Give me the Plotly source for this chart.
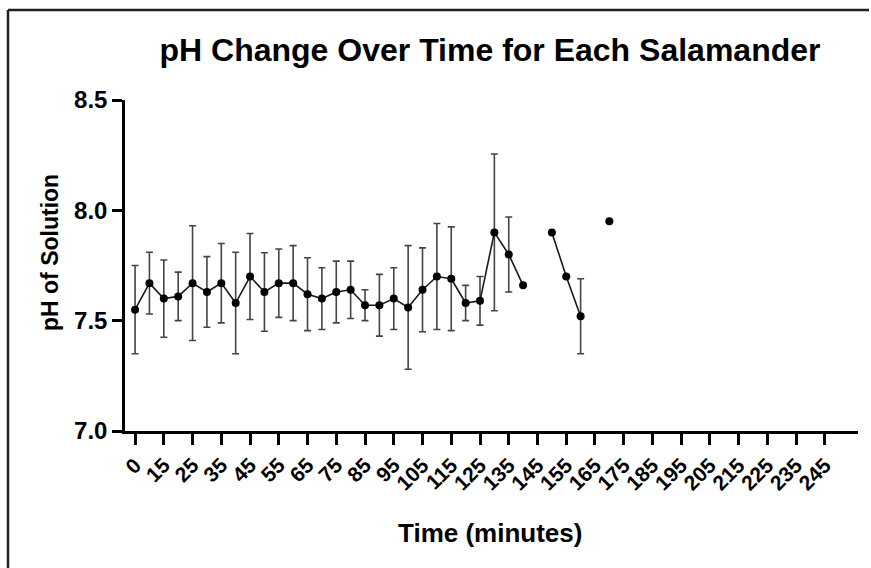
import plotly.graph_objects as go

# Data (time in minutes, mean pH, error half-width)
times = [0, 5, 10, 15, 20, 25, 30, 35, 40, 45, 50, 55, 60, 65, 70, 75, 80, 85,
         90, 95, 100, 105, 110, 115, 120, 125, 130, 135, 140, 145, 150, 155, 160, 165]
ph_mean = [7.55, 7.67, 7.60, 7.61, 7.67, 7.63, 7.67, 7.58, 7.70, 7.63, 7.67, 7.67,
           7.62, 7.60, 7.63, 7.64, 7.57, 7.57, 7.60, 7.56, 7.64, 7.70, 7.69, 7.58,
           7.59, 7.90, 7.80, 7.66, None, 7.90, 7.70, 7.52, None, 7.95]
ph_err = [0.20, 0.14, 0.175, 0.11, 0.26, 0.16, 0.18, 0.23, 0.195, 0.178, 0.155, 0.17,
          0.165, 0.14, 0.14, 0.13, 0.07, 0.14, 0.14, 0.28, 0.19, 0.24, 0.235, 0.08,
          0.11, 0.355, 0.17, None, None, None, None, 0.17, None, None]

tick_vals = list(range(0, 241, 10))
tick_text = ["0", "15", "25", "35", "45", "55", "65", "75", "85", "95", "105", "115",
             "125", "135", "145", "155", "165", "175", "185", "195", "205", "215",
             "225", "235", "245"]
y_ticks = [7.0, 7.5, 8.0, 8.5]

FONT = "Liberation Sans, Arial, sans-serif"

fig = go.Figure()
fig.add_trace(go.Scatter(
    x=times, y=ph_mean,
    mode="lines+markers",
    connectgaps=False,
    line=dict(color="#1a1a1a", width=1.6),
    marker=dict(color="#000000", size=8),
    error_y=dict(type="data", array=ph_err, visible=True,
                 color="#444444", thickness=1.6, width=3.5),
    showlegend=False,
))

L, R, T, B = 125, 13, 100, 137
W, H = 871, 568
pw, ph = W - L - R, H - T - B

def px_x(x):
    return (x - L) / pw

def px_y(y):
    return (H - B - y) / ph

fig.update_layout(
    width=W, height=H,
    margin=dict(l=L, r=R, t=T, b=B),
    paper_bgcolor="white", plot_bgcolor="white",
    font=dict(family=FONT, color="#000000"),
    title=dict(text="<b>pH Change Over Time for Each Salamander</b>",
               font=dict(size=32, family=FONT, color="#000000"),
               xref="paper", x=px_x(490), xanchor="center",
               yref="container", y=1 - 50 / H, yanchor="middle"),
    xaxis=dict(range=[-3.5, 251.5], tickmode="array", tickvals=tick_vals,
               ticktext=tick_text, tickangle=-45,
               tickfont=dict(size=21, family=FONT, color="#000000", weight="bold"),
               showgrid=False, zeroline=False, showline=True,
               linecolor="#000000", linewidth=2.5,
               ticks="outside", ticklen=11, tickwidth=2.5, tickcolor="#000000"),
    yaxis=dict(range=[7.0, 8.5], tickmode="array", tickvals=y_ticks,
               tickformat=".1f",
               tickfont=dict(size=24, family=FONT, color="#000000", weight="bold"),
               showgrid=False, zeroline=False, showline=True,
               linecolor="#000000", linewidth=2.5,
               ticks="outside", ticklen=10, tickwidth=2.5, tickcolor="#000000"),
    annotations=[
        dict(text="<b>pH of Solution</b>", xref="paper", yref="paper",
             x=px_x(50), y=px_y(253), xanchor="center", yanchor="middle",
             textangle=-90, showarrow=False,
             font=dict(size=23, family=FONT, color="#000000")),
        dict(text="<b>Time (minutes)</b>", xref="paper", yref="paper",
             x=px_x(490), y=px_y(533), xanchor="center", yanchor="middle",
             showarrow=False,
             font=dict(size=26, family=FONT, color="#000000")),
    ],
    shapes=[
        dict(type="line", xref="paper", yref="paper",
             x0=px_x(8), x1=px_x(869), y0=px_y(10), y1=px_y(10),
             line=dict(color="#231f20", width=2.5)),
        dict(type="line", xref="paper", yref="paper",
             x0=px_x(8), x1=px_x(8), y0=px_y(10), y1=px_y(568),
             line=dict(color="#231f20", width=2.5)),
    ],
)

fig.write_html("out.html", config={"displayModeBar": False})
